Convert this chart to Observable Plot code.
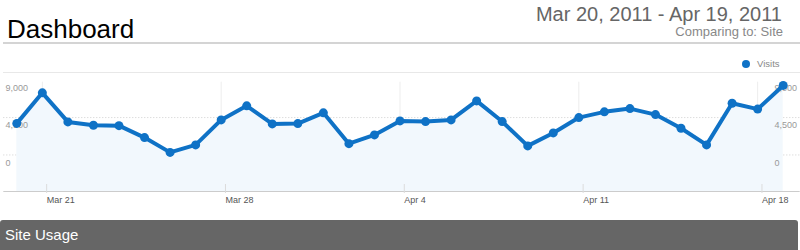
<!DOCTYPE html>
<html><head><meta charset="utf-8">
<script src="https://cdn.jsdelivr.net/npm/d3@7"></script>
<script src="https://cdn.jsdelivr.net/npm/@observablehq/plot@0.6"></script>
<style>
html,body{margin:0;padding:0;}
body{width:800px;height:250px;overflow:hidden;background:#fff;font-family:"Liberation Sans",Arial,Helvetica,sans-serif;position:relative;}
#title{position:absolute;left:7px;top:16px;font-size:26px;line-height:26px;color:#000;}
#range{position:absolute;right:18px;top:4px;font-size:20px;line-height:20px;color:#666;white-space:nowrap;}
#compare{position:absolute;right:17px;top:25px;font-size:13px;line-height:13px;color:#888;white-space:nowrap;}
#hr{position:absolute;left:3px;right:0;top:42px;height:0;border-top:2px solid #d4d4d4;}
#legend{position:absolute;left:742px;top:59px;font-size:9.5px;line-height:10px;color:#888;white-space:nowrap;}
#legend .dot{display:inline-block;width:8px;height:8px;border-radius:50%;background:#0f72c6;margin-right:7px;vertical-align:-1px;}
#chart{position:absolute;left:0;top:72px;width:800px;height:148px;}
#chart svg{display:block;overflow:visible;}
#topline{position:absolute;left:3px;right:0;top:72px;height:0;border-top:1px solid #e8e8e8;}
#bar{position:absolute;left:0;width:798px;top:220px;height:30px;background:#666;color:#fff;font-size:15px;line-height:30px;padding-left:5px;box-sizing:border-box;border-radius:3px 3px 0 0;}
</style></head><body>
<div id="title">Dashboard</div>
<div id="range">Mar 20, 2011 - Apr 19, 2011</div>
<div id="compare">Comparing to: Site</div>
<div id="hr"></div>
<div id="legend"><span class="dot"></span>Visits</div>
<div id="chart"></div>
<div id="topline"></div>
<div id="bar">Site Usage</div>
<script>
const dates = ["2011-03-20","2011-03-21","2011-03-22","2011-03-23","2011-03-24","2011-03-25","2011-03-26","2011-03-27","2011-03-28","2011-03-29","2011-03-30","2011-03-31","2011-04-01","2011-04-02","2011-04-03","2011-04-04","2011-04-05","2011-04-06","2011-04-07","2011-04-08","2011-04-09","2011-04-10","2011-04-11","2011-04-12","2011-04-13","2011-04-14","2011-04-15","2011-04-16","2011-04-17","2011-04-18","2011-04-19"];
const visits = [3800, 7480, 3980, 3570, 3530, 2090, 310, 1210, 4220, 5910, 3740, 3780, 5070, 1360, 2410, 4100, 4020, 4220, 6510, 4020, 1090, 2650, 4500, 5190, 5580, 4860, 3210, 1210, 6220, 5520, 8370];
const xTicks = ["2011-03-21","2011-03-28","2011-04-04","2011-04-11","2011-04-18"];
const xTickLabels = ["Mar 21","Mar 28","Apr 4","Apr 11","Apr 18"];
const yTicks = [0, 4500, 9000];
const yTickLabels = ["0","4,500","9,000"];
const yDomain = [-4400, 9000];

const parse = d3.utcParse("%Y-%m-%d");
const data = dates.map((d, i) => ({date: parse(d), visits: visits[i]}));
const xTickDates = xTicks.map(parse);
const xLabel = new Map(xTickDates.map((d, i) => [+d, xTickLabels[i]]));
const yLabel = new Map(yTicks.map((v, i) => [v, yTickLabels[i]]));
const blue = "#0f72c6";

const chart = Plot.plot({
  width: 800,
  height: 148,
  marginLeft: 16.3,
  marginRight: 17.3,
  marginTop: 7.7,
  marginBottom: 29,
  style: {fontFamily: "'Liberation Sans', Arial, sans-serif", background: "transparent"},
  x: {type: "utc", domain: [data[0].date, data[data.length - 1].date]},
  y: {domain: yDomain},
  marks: [
    Plot.ruleY(yTicks.slice(0, 2), {stroke: "#cfcfcf", strokeDasharray: "1,2", insetLeft: -13, insetRight: -17}),
    Plot.ruleX(xTickDates, {y1: yTicks[2], y2: yDomain[0], stroke: "#ededed", insetTop: 2}),
    Plot.areaY(data, {x: "date", y1: () => yDomain[0], y2: "visits", fill: "#f2f8fd"}),
    Plot.ruleY([yDomain[0]], {stroke: "#cccccc", insetLeft: -13, insetRight: -17}),
    Plot.axisX({ticks: xTickDates, tickSize: 9, tickPadding: 3, stroke: "#dcdcdc", tickFormat: d => xLabel.get(+d),
      textAnchor: "start", dx: 4.3, dy: -7, fontSize: 9, fill: "#555", label: null}),
    Plot.axisY({anchor: "left", ticks: yTicks, tickSize: 0, tickPadding: 0, tickFormat: v => yLabel.get(v),
      textAnchor: "start", dx: -11.3, dy: 8, fontSize: 9, fill: "#999", label: null}),
    Plot.axisY({anchor: "right", ticks: yTicks, tickSize: 0, tickPadding: 0, tickFormat: v => yLabel.get(v),
      textAnchor: "start", dx: -8.7, dy: 8, fontSize: 9, fill: "#999", label: null}),
    Plot.line(data, {x: "date", y: "visits", stroke: blue, strokeWidth: 4, strokeLinejoin: "round"}),
    Plot.dot(data, {x: "date", y: "visits", r: 4.5, fill: blue})
  ]
});
document.getElementById("chart").appendChild(chart);
</script>
</body></html>
